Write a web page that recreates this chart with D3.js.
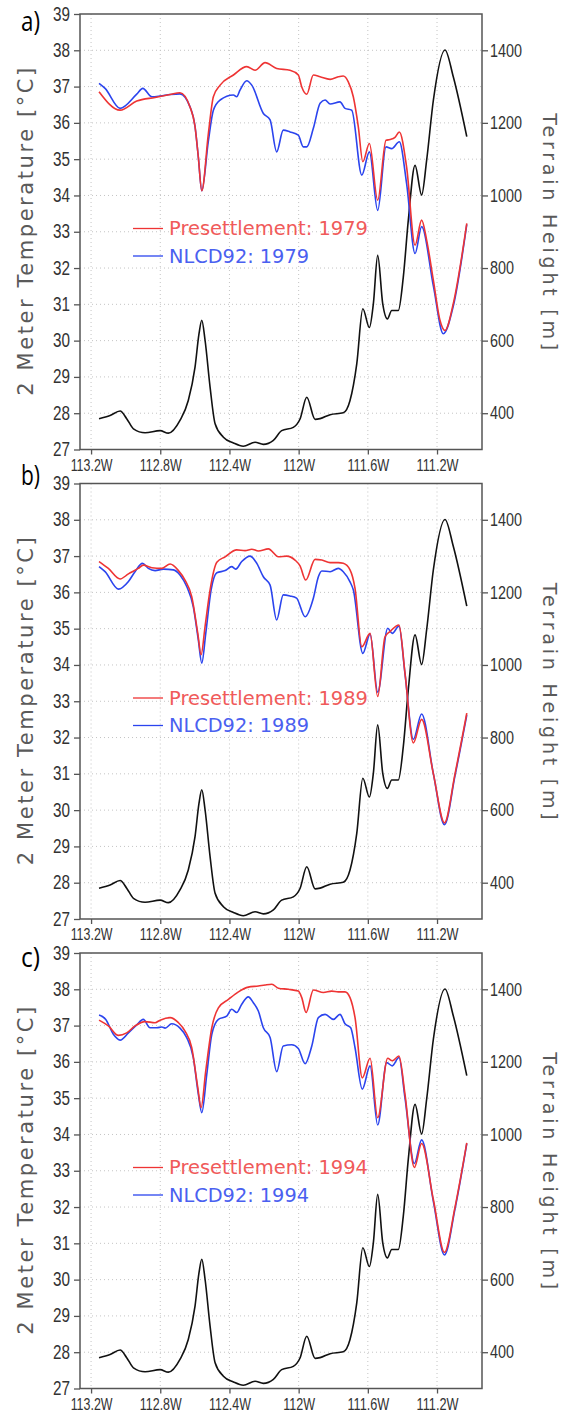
<!DOCTYPE html>
<html lang="en">
<head>
<meta charset="UTF-8">
<title>2 Meter Temperature and Terrain Height</title>
<script src="https://d3js.org/d3.v7.min.js"></script>
<style>
  body { margin: 0; background: #fff; font-family: "DejaVu Sans", sans-serif; }
  .grid line { stroke: #c4c4c4; stroke-width: 1; stroke-dasharray: 1,3; }
  .frame { fill: none; stroke: #555; stroke-width: 1.5; }
  .axis path { display: none; }
  .axis line { stroke: #555; stroke-width: 1.3; }
  .axis text { fill: #333; font-family: "Liberation Sans", sans-serif; }
  .title { fill: #5a5a5a; font-family: "DejaVu Sans", sans-serif; }
  .tag { fill: #000; font-family: "Open Sans", sans-serif; }
</style>
</head>
<body>
<svg width="568" height="1414"></svg>
<script>
// ---- data ----
const lonTicks = [113.2, 112.8, 112.4, 112.0, 111.6, 111.2];
const lonLabels = ["113.2W", "112.8W", "112.4W", "112W", "111.6W", "111.2W"];
const tempTicks = [27, 28, 29, 30, 31, 32, 33, 34, 35, 36, 37, 38, 39];
const heightTicks = [400, 600, 800, 1000, 1200, 1400];
const years = ["1979", "1989", "1994"];
const panelTags = ["a)", "b)", "c)"];

// terrain height [m] along the transect (same in every panel)
const terrain = [
  [113.154, 385], [113.090, 394], [113.032, 406], [112.994, 385], [112.955, 357],
  [112.888, 346], [112.801, 352], [112.753, 345], [112.686, 380], [112.638, 435],
  [112.599, 527], [112.576, 619], [112.560, 656], [112.541, 601], [112.512, 472],
  [112.483, 371], [112.435, 334], [112.377, 318], [112.320, 309], [112.252, 320],
  [112.204, 314], [112.146, 325], [112.098, 352], [112.031, 361], [111.992, 384],
  [111.953, 444], [111.905, 383], [111.876, 385], [111.818, 396], [111.742, 401],
  [111.703, 435], [111.664, 536], [111.629, 688], [111.591, 636], [111.568, 702],
  [111.543, 835], [111.514, 702], [111.487, 660], [111.462, 683], [111.424, 683],
  [111.395, 775], [111.366, 932], [111.327, 1083], [111.289, 1001], [111.260, 1097],
  [111.221, 1263], [111.154, 1401], [111.106, 1327], [111.028, 1162]
];

// 2 m temperature, presettlement land cover
const preset1979 = [
  [113.154, 36.86], [113.032, 36.35], [112.936, 36.6], [112.830, 36.7], [112.743, 36.78],
  [112.686, 36.83], [112.628, 36.44], [112.599, 35.9], [112.580, 35.06], [112.560, 34.13],
  [112.522, 35.7], [112.493, 36.72], [112.454, 37.04], [112.377, 37.32], [112.300, 37.55],
  [112.252, 37.45], [112.194, 37.66], [112.127, 37.5], [112.050, 37.45], [112.002, 37.32],
  [111.982, 36.99], [111.953, 36.79], [111.915, 37.32], [111.876, 37.27], [111.818, 37.2],
  [111.771, 37.27], [111.742, 37.29], [111.713, 37.13], [111.684, 36.72], [111.655, 35.89],
  [111.629, 34.93], [111.591, 35.43], [111.543, 33.87], [111.495, 35.52], [111.472, 35.54],
  [111.443, 35.6], [111.418, 35.75], [111.376, 34.79], [111.327, 32.63], [111.289, 33.32],
  [111.260, 32.77], [111.221, 31.66], [111.183, 30.56], [111.154, 30.28], [111.106, 31.02],
  [111.028, 33.23]
];
// 2 m temperature, NLCD92 land cover
const nlcd1979 = [
  [113.154, 37.09], [113.119, 36.95], [113.032, 36.4], [112.936, 36.79], [112.901, 36.95],
  [112.849, 36.72], [112.801, 36.74], [112.743, 36.78], [112.686, 36.8], [112.628, 36.44],
  [112.599, 35.9], [112.580, 35.06], [112.560, 34.13], [112.522, 35.5], [112.493, 36.35],
  [112.454, 36.63], [112.377, 36.77], [112.358, 36.72], [112.339, 36.9], [112.300, 37.16],
  [112.271, 37.04], [112.204, 36.26], [112.165, 36.08], [112.127, 35.2], [112.089, 35.8],
  [112.050, 35.75], [112.002, 35.66], [111.973, 35.34], [111.953, 35.34], [111.915, 35.85],
  [111.876, 36.54], [111.847, 36.63], [111.818, 36.52], [111.761, 36.58], [111.732, 36.4],
  [111.693, 36.35], [111.635, 34.56], [111.591, 35.2], [111.543, 33.59], [111.495, 35.34],
  [111.462, 35.29], [111.418, 35.48], [111.376, 34.33], [111.327, 32.4], [111.289, 33.14],
  [111.221, 31.5], [111.164, 30.19], [111.106, 30.95], [111.028, 33.2]
];
const preset1989 = [
  [113.154, 36.85], [113.100, 36.66], [113.032, 36.37], [112.984, 36.51], [112.927, 36.66],
  [112.898, 36.75], [112.849, 36.68], [112.791, 36.66], [112.743, 36.78], [112.695, 36.6],
  [112.657, 36.34], [112.618, 35.88], [112.583, 34.87], [112.564, 34.28], [112.541, 35.06],
  [112.512, 36.07], [112.473, 36.83], [112.425, 36.98], [112.358, 37.17], [112.310, 37.15],
  [112.271, 37.19], [112.233, 37.14], [112.175, 37.2], [112.117, 36.98], [112.069, 37.0],
  [112.021, 36.89], [111.992, 36.73], [111.959, 36.34], [111.905, 36.91], [111.866, 36.89],
  [111.818, 36.82], [111.771, 36.82], [111.742, 36.8], [111.703, 36.62], [111.674, 36.11],
  [111.635, 34.5], [111.587, 34.87], [111.543, 33.13], [111.501, 34.77], [111.472, 34.92],
  [111.420, 35.1], [111.385, 33.77], [111.337, 31.85], [111.289, 32.5], [111.221, 31.0],
  [111.157, 29.65], [111.096, 31.0], [111.028, 32.67]
];
const nlcd1989 = [
  [113.154, 36.71], [113.119, 36.57], [113.042, 36.09], [112.984, 36.3], [112.946, 36.57],
  [112.903, 36.8], [112.869, 36.66], [112.830, 36.6], [112.782, 36.64], [112.724, 36.62],
  [112.686, 36.48], [112.647, 36.16], [112.609, 35.6], [112.580, 34.69], [112.560, 34.05],
  [112.537, 34.87], [112.506, 36.07], [112.473, 36.54], [112.425, 36.6], [112.387, 36.71],
  [112.364, 36.64], [112.329, 36.85], [112.281, 37.0], [112.242, 36.8], [112.204, 36.43],
  [112.165, 36.2], [112.127, 35.24], [112.089, 35.93], [112.050, 35.9], [112.012, 35.84],
  [111.963, 35.33], [111.915, 35.84], [111.886, 36.43], [111.866, 36.59], [111.818, 36.57],
  [111.771, 36.66], [111.742, 36.57], [111.703, 36.29], [111.684, 36.07], [111.629, 34.32],
  [111.587, 34.85], [111.543, 33.25], [111.485, 35.01], [111.459, 34.87], [111.420, 35.07],
  [111.385, 33.75], [111.337, 31.95], [111.289, 32.65], [111.221, 31.0], [111.157, 29.6],
  [111.096, 30.95], [111.028, 32.62]
];
const preset1994 = [
  [113.154, 37.15], [113.100, 36.99], [113.042, 36.73], [112.994, 36.8], [112.946, 36.99],
  [112.888, 37.11], [112.830, 37.08], [112.801, 37.15], [112.743, 37.22], [112.695, 37.08],
  [112.657, 36.85], [112.618, 36.39], [112.583, 35.29], [112.564, 34.74], [112.537, 35.75],
  [112.502, 36.94], [112.464, 37.49], [112.406, 37.72], [112.348, 37.93], [112.291, 38.06],
  [112.233, 38.09], [112.194, 38.12], [112.155, 38.14], [112.117, 38.03], [112.060, 38.0],
  [112.002, 37.95], [111.982, 37.77], [111.957, 37.36], [111.915, 37.98], [111.857, 37.91],
  [111.809, 37.95], [111.771, 37.93], [111.732, 37.93], [111.703, 37.77], [111.674, 37.22],
  [111.632, 35.56], [111.587, 36.1], [111.543, 34.46], [111.485, 36.1], [111.459, 36.03],
  [111.420, 36.16], [111.385, 35.1], [111.331, 33.09], [111.289, 33.75], [111.221, 32.2],
  [111.157, 30.75], [111.096, 32.0], [111.028, 33.77]
];
const nlcd1994 = [
  [113.154, 37.29], [113.115, 37.17], [113.071, 36.76], [113.032, 36.6], [112.984, 36.8],
  [112.936, 37.02], [112.898, 37.17], [112.859, 36.94], [112.820, 36.94], [112.791, 36.96],
  [112.772, 36.93], [112.734, 37.05], [112.686, 36.93], [112.647, 36.67], [112.609, 36.12],
  [112.580, 35.11], [112.560, 34.6], [112.531, 35.66], [112.502, 36.76], [112.464, 37.17],
  [112.416, 37.26], [112.387, 37.45], [112.358, 37.36], [112.329, 37.59], [112.291, 37.79],
  [112.262, 37.63], [112.233, 37.4], [112.204, 36.94], [112.165, 36.67], [112.127, 35.73],
  [112.089, 36.44], [112.040, 36.47], [112.002, 36.37], [111.963, 35.95], [111.924, 36.44],
  [111.886, 37.22], [111.847, 37.31], [111.799, 37.17], [111.761, 37.31], [111.732, 37.05],
  [111.699, 36.94], [111.674, 36.39], [111.632, 35.25], [111.587, 35.89], [111.543, 34.26],
  [111.491, 35.98], [111.459, 35.89], [111.420, 36.12], [111.385, 35.0], [111.331, 33.2],
  [111.289, 33.85], [111.221, 32.15], [111.157, 30.68], [111.096, 31.95], [111.028, 33.75]
];

const presetSeries = [preset1979, preset1989, preset1994];
const nlcdSeries = [nlcd1979, nlcd1989, nlcd1994];

// ---- layout ----
const panelTops = [14, 483.5, 953];
const plotH = 435.5;
const left = 80, right = 482;
const tagBaselines = [31, 485, 967];
const redColor = "#ee3434", blueColor = "#2b44ee";

const svg = d3.select("svg");

const x = d3.scaleLinear().domain([113.264, 110.94]).range([left, right]);

// approximate widths of the narrow GrADS-style labels
function labelWidth(s, digitW, wW) {
  let w = 0;
  for (const c of s) w += c === "." ? 3 : c === "W" ? wW : digitW;
  return w;
}

panelTops.forEach((top, i) => {
  const bottom = top + plotH;
  const yT = d3.scaleLinear().domain([27, 39]).range([bottom, top]);
  const yH = d3.scaleLinear().domain([300, 1500]).range([bottom, top]);
  const g = svg.append("g");

  // dotted grid
  const grid = g.append("g").attr("class", "grid");
  grid.selectAll(".gx").data(lonTicks).join("line")
    .attr("x1", d => x(d)).attr("x2", d => x(d))
    .attr("y1", top).attr("y2", bottom);
  grid.selectAll(".gy").data(tempTicks.slice(1, -1)).join("line")
    .attr("x1", left).attr("x2", right)
    .attr("y1", d => yT(d)).attr("y2", d => yT(d));

  // axes
  g.append("g").attr("class", "axis")
    .attr("transform", `translate(${left},0)`)
    .call(d3.axisLeft(yT).tickValues(tempTicks).tickSize(6).tickPadding(4).tickSizeOuter(0))
    .selectAll("text")
    .attr("font-size", 20)
    .attr("dy", "0.3em")
    .attr("textLength", d => labelWidth(String(d), 8.5, 0))
    .attr("lengthAdjust", "spacingAndGlyphs");

  g.append("g").attr("class", "axis")
    .attr("transform", `translate(${right},0)`)
    .call(d3.axisRight(yH).tickValues(heightTicks).tickSize(6).tickPadding(2).tickSizeOuter(0)
      .tickFormat(d3.format("d")))
    .selectAll("text")
    .attr("font-size", 18)
    .attr("textLength", d => labelWidth(String(d), 8, 0))
    .attr("lengthAdjust", "spacingAndGlyphs");

  g.append("g").attr("class", "axis")
    .attr("transform", `translate(0,${bottom})`)
    .call(d3.axisBottom(x).tickValues(lonTicks).tickSize(5).tickPadding(4).tickSizeOuter(0)
      .tickFormat((d, k) => lonLabels[k]))
    .selectAll("text")
    .attr("font-size", 17)
    .attr("textLength", (d, k) => labelWidth(lonLabels[k], 7.1, 10.5))
    .attr("lengthAdjust", "spacingAndGlyphs");

  g.append("rect").attr("class", "frame")
    .attr("x", left).attr("y", top)
    .attr("width", right - left).attr("height", plotH);

  // curves
  const lineT = d3.line().x(d => x(d[0])).y(d => yT(d[1])).curve(d3.curveMonotoneX);
  const lineH = d3.line().x(d => x(d[0])).y(d => yH(d[1])).curve(d3.curveMonotoneX);

  g.append("path").datum(terrain).attr("d", lineH)
    .attr("fill", "none").attr("stroke", "#111").attr("stroke-width", 1.6);
  g.append("path").datum(nlcdSeries[i]).attr("d", lineT)
    .attr("fill", "none").attr("stroke", blueColor).attr("stroke-width", 1.6);
  g.append("path").datum(presetSeries[i]).attr("d", lineT)
    .attr("fill", "none").attr("stroke", redColor).attr("stroke-width", 1.6);

  // legend
  const legend = [
    { name: "Presettlement: " + years[i], color: redColor, text: "#f05a5a", dy: 214.5, w: 199 },
    { name: "NLCD92: " + years[i], color: blueColor, text: "#4a60f0", dy: 242, w: 140 }
  ];
  legend.forEach(l => {
    g.append("line")
      .attr("x1", 133).attr("x2", 163)
      .attr("y1", top + l.dy).attr("y2", top + l.dy)
      .attr("stroke", l.color).attr("stroke-width", 1.3);
    g.append("text")
      .attr("x", 169).attr("y", top + l.dy + 6.5)
      .attr("font-size", 20)
      .attr("fill", l.text)
      .attr("textLength", l.w).attr("lengthAdjust", "spacingAndGlyphs")
      .text(l.name);
  });

  // axis titles
  const mid = top + plotH / 2;
  g.append("text").attr("class", "title")
    .attr("transform", `translate(33,${mid}) rotate(-90)`)
    .attr("text-anchor", "middle")
    .attr("font-size", 21)
    .attr("textLength", 328).attr("lengthAdjust", "spacing")
    .text("2 Meter Temperature [°C]");
  g.append("text").attr("class", "title")
    .attr("transform", `translate(543,${mid}) rotate(90)`)
    .attr("text-anchor", "middle")
    .attr("font-size", 19)
    .attr("textLength", 237).attr("lengthAdjust", "spacing")
    .text("Terrain Height [m]");

  // panel tag
  g.append("text").attr("class", "tag")
    .attr("x", 21).attr("y", tagBaselines[i])
    .attr("font-size", 27)
    .attr("textLength", 19).attr("lengthAdjust", "spacingAndGlyphs")
    .text(panelTags[i]);
});
</script>
</body>
</html>
